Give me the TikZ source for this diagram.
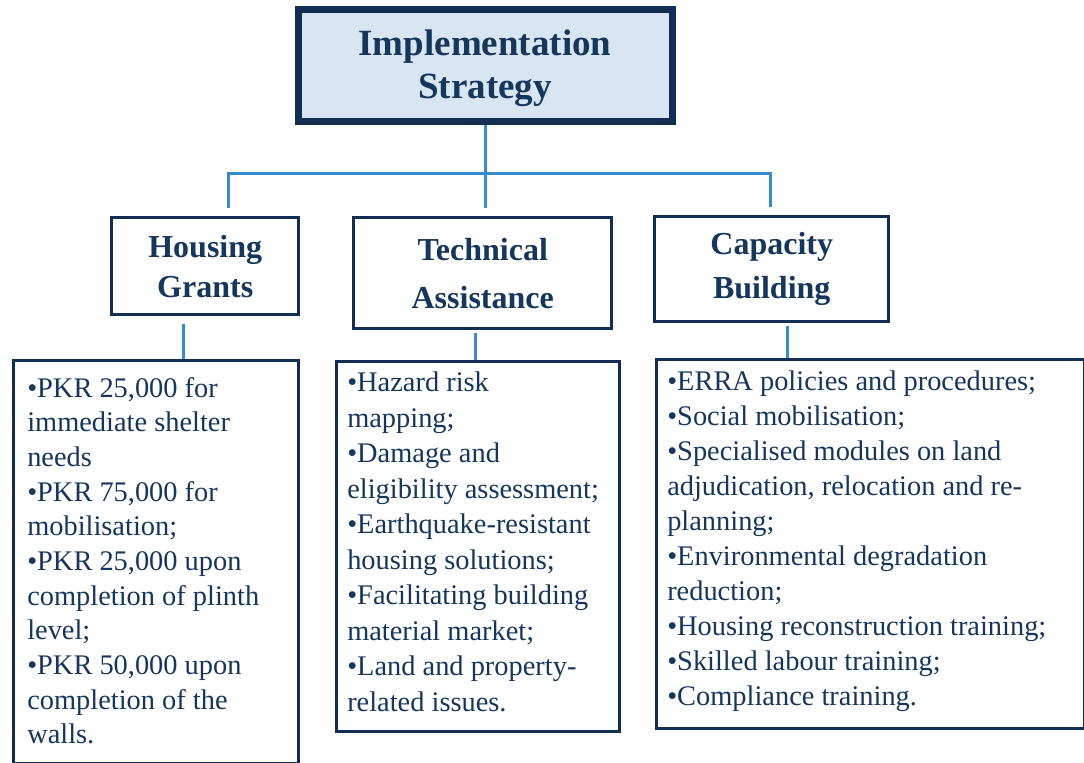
\documentclass[tikz,border=0pt]{standalone}
\usepackage{fontspec}
\setmainfont{Liberation Serif}
\definecolor{navy}{RGB}{22,54,92}
\definecolor{boxline}{RGB}{18,46,82}
\definecolor{linkblue}{RGB}{55,138,204}
\definecolor{topfill}{RGB}{216,229,242}
\begin{document}
\begin{tikzpicture}[x=0.75pt,y=-0.75pt,
  topbox/.style={draw=boxline,line width=5.25pt,fill=topfill,rectangle,inner sep=0pt},
  headbox/.style={draw=boxline,line width=2.6pt,fill=white,rectangle,inner sep=0pt},
  listbox/.style={draw=boxline,line width=1.9pt,fill=white,rectangle,inner sep=0pt},
  headtext/.style={text=navy,align=center,inner sep=0pt,font={\fontsize{24}{30}\selectfont\bfseries}},
  listtext/.style={text=navy,align=left,inner sep=0pt,anchor=north west},
  conn/.style={draw=linkblue,line width=2.25pt}]
\useasboundingbox (0,0) rectangle (1084,763);
\fill[white] (0,0) rectangle (1084,763);
% boxes
\node[topbox,minimum width=280.5pt,minimum height=84pt] (top) at (485,66) {};
\node[headtext,font={\fontsize{27.75}{32}\selectfont\bfseries}] (toptxt) at (485,68) {Implementation\\Strategy};
\node[headbox,minimum width=140.25pt,minimum height=72.75pt,anchor=north west] (hg) at (110,216) {};
\node[headbox,minimum width=193.5pt,minimum height=83.25pt,anchor=north west] (ta) at (352,216) {};
\node[headbox,minimum width=175.5pt,minimum height=78.75pt,anchor=north west] (cb) at (653,215) {};
\node[headtext] (hgt) at (hg.center) {Housing\\Grants};
\node[headtext,font={\fontsize{24}{36}\selectfont\bfseries}] (tat) at (ta.center) {Technical\\Assistance};
\node[headtext,font={\fontsize{24}{33}\selectfont\bfseries}] (cbt) at (cb.center) {Capacity\\Building};
\node[listbox,minimum width=213.75pt,minimum height=302.25pt,anchor=north west] (hgl) at (12,359) {};
\node[listbox,minimum width=212.25pt,minimum height=277.5pt,anchor=north west] (tal) at (335,360) {};
\node[listbox,minimum width=321pt,minimum height=276.75pt,anchor=north west] (cbl) at (655,358) {};
% list texts
\node[listtext,font={\fontsize{21.3}{26}\selectfont}] (hgx) at (27,377) {•PKR 25,000 for\\immediate shelter\\needs\\•PKR 75,000 for\\mobilisation;\\•PKR 25,000 upon\\completion of plinth\\level;\\•PKR 50,000 upon\\completion of the\\walls.};
\node[listtext,font={\fontsize{21.3}{26.6}\selectfont}] (tax) at (347,372) {•Hazard risk\\mapping;\\•Damage and\\eligibility assessment;\\•Earthquake-resistant\\housing solutions;\\•Facilitating building\\material market;\\•Land and property-\\related issues.};
\node[listtext,font={\fontsize{21.3}{26.25}\selectfont}] (cbx) at (667,371) {•ERRA policies and procedures;\\•Social mobilisation;\\•Specialised modules on land\\adjudication, relocation and re-\\planning;\\•Environmental degradation\\reduction;\\•Housing reconstruction training;\\•Skilled labour training;\\•Compliance training.};
% connectors
\coordinate (jl) at (228,173);
\coordinate (jr) at (770,173);
\coordinate (hx) at (183,0);
\coordinate (tx) at (475,0);
\coordinate (cx) at (787,0);
\draw[conn,shorten >=6pt] (top.south) -- (top.south |- ta.north);
\draw[conn,shorten <=6pt,shorten >=6pt] (jl |- hg.north) -- (jl) -- (jr) -- (jr |- cb.north);
\draw[conn,shorten <=6pt] (hx |- hg.south) -- (hx |- hgl.north);
\draw[conn,shorten <=2pt] (tx |- ta.south) -- (tx |- tal.north);
\draw[conn,shorten <=2pt] (cx |- cb.south) -- (cx |- cbl.north);
\end{tikzpicture}
\end{document}
